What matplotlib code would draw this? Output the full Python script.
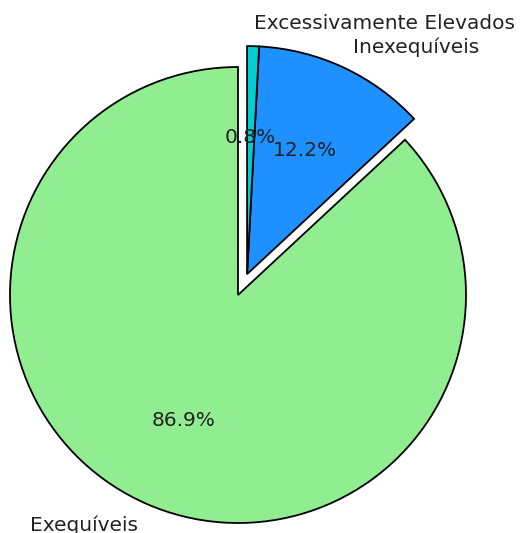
import matplotlib
matplotlib.use("Agg")
import matplotlib.pyplot as plt

labels = ["Exequíveis", "Inexequíveis", "Excessivamente Elevados"]
values = [86.92, 12.24, 0.84]
colors = ["lightgreen", "dodgerblue", "darkturquoise"]
explode = [0.1, 0.0, 0.0]

fig = plt.figure(figsize=(5.21, 5.33), dpi=100)
ax = fig.add_axes([0, 0, 1, 1])
ax.pie(values, labels=labels, colors=colors, explode=explode,
       autopct="%1.1f%%", startangle=90, counterclock=True,
       wedgeprops=dict(edgecolor="black", linewidth=1.3),
       textprops=dict(fontsize=14.5, color="#222222"))
R = 228.0
cx, cy = 247.1, 274.1
ax.set_aspect("auto")
ax.set_xlim(-cx / R, (521 - cx) / R)
ax.set_ylim(-(533 - cy) / R, cy / R)
ax.axis("off")
fig.savefig("out.png", dpi=100)
